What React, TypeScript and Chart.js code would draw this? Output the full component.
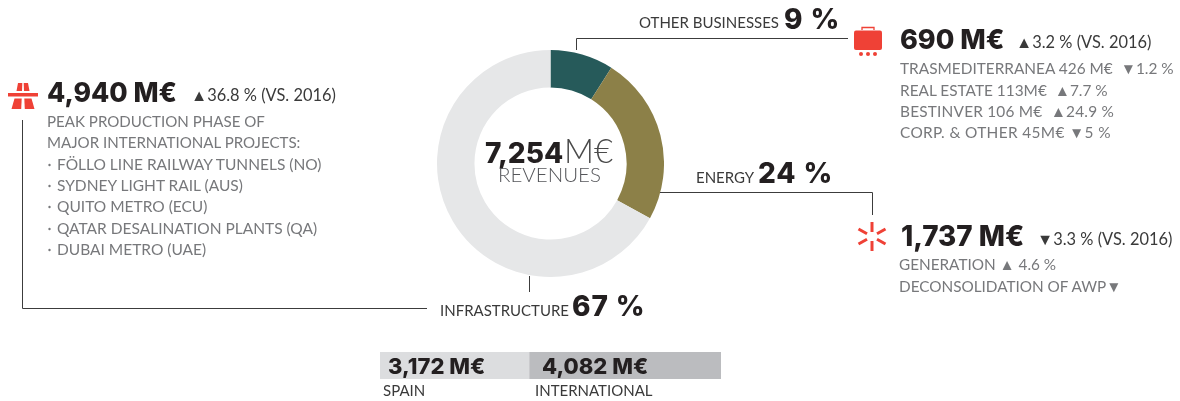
import React, { useEffect, useRef } from "react";
import { Chart, registerables } from "chart.js";

Chart.register(...registerables);

const segmentLabels = ["Other businesses", "Energy", "Infrastructure"];
const segmentValues = [9, 24, 67];
const segmentColors = ["#265A5A", "#8C8048", "#E6E7E8"];
const geoLabels = ["Spain", "International"];
const geoValues = [3172, 4082];
const geoColors = ["#DCDDDF", "#BBBCBF"];
const geoTotal = 7254;

const infraIntro = ["PEAK PRODUCTION PHASE OF", "MAJOR INTERNATIONAL PROJECTS:"];
const infraProjects = [
  "FÖLLO LINE RAILWAY TUNNELS (NO)",
  "SYDNEY LIGHT RAIL (AUS)",
  "QUITO METRO (ECU)",
  "QATAR DESALINATION PLANTS (QA)",
  "DUBAI METRO (UAE)",
];
const otherLines = [
  "TRASMEDITERRANEA 426 M€  ▼1.2 %",
  "REAL ESTATE 113M€  ▲7.7 %",
  "BESTINVER 106 M€  ▲24.9 %",
  "CORP. & OTHER 45M€ ▼5 %",
];
const energyLines = ["GENERATION ▲ 4.6 %", "DECONSOLIDATION OF AWP▼"];

const LIGHT = "Lato, sans-serif";
const HEAVY = "Inter, sans-serif";
const DARK = "#231F20";
const GREY = "#77787B";
const RED = "#EF4136";
const LINE = "#3C3C3C";

function Big({ x, y, size = 27, spacing = 0, children }: any) {
  return (
    <text x={x} y={y} fontFamily={HEAVY} fontWeight={800} fontSize={size} letterSpacing={spacing} fill={DARK}>
      {children}
    </text>
  );
}
function Small({ x, y, size = 15.4, fill = "#3A3A3A", weight = 400, spacing = 0, children }: any) {
  return (
    <text x={x} y={y} fontFamily={LIGHT} fontWeight={weight} fontSize={size} letterSpacing={spacing} fill={fill} xmlSpace="preserve">
      {children}
    </text>
  );
}

export default function App() {
  const donutRef = useRef<HTMLCanvasElement>(null);
  const barRef = useRef<HTMLCanvasElement>(null);

  useEffect(() => {
    const donut = new Chart(donutRef.current!, {
      type: "doughnut",
      data: {
        labels: segmentLabels,
        datasets: [{ data: segmentValues, backgroundColor: segmentColors, borderWidth: 0 }],
      },
      options: {
        responsive: false,
        animation: false,
        cutout: "67%",
        layout: { padding: 0 },
        plugins: { legend: { display: false }, tooltip: { enabled: false } },
      },
    });
    const bar = new Chart(barRef.current!, {
      type: "bar",
      data: {
        labels: ["Revenues"],
        datasets: geoLabels.map((label, i) => ({
          label,
          data: [geoValues[i]],
          backgroundColor: geoColors[i],
          borderWidth: 0,
          barPercentage: 1,
          categoryPercentage: 1,
        })),
      },
      options: {
        indexAxis: "y",
        responsive: false,
        animation: false,
        layout: { padding: 0 },
        scales: {
          x: { stacked: true, display: false, min: 0, max: geoTotal },
          y: { stacked: true, display: false },
        },
        plugins: { legend: { display: false }, tooltip: { enabled: false } },
      },
    });
    return () => {
      donut.destroy();
      bar.destroy();
    };
  }, []);

  const introY = [127, 148];
  const projectY = [170, 191, 212, 234, 255];
  const otherY = [74, 96, 117, 138];
  const otherSpacing = [0, 0, 0.2, 0.35];
  const energyY = [270, 292];

  return (
    <div style={{ position: "absolute", left: 0, top: 0, width: 1180, height: 401, overflow: "hidden", background: "#fff" }}>
      <canvas ref={donutRef} width={227} height={227} style={{ position: "absolute", left: 437, top: 50, width: 227, height: 227 }} />
      <canvas ref={barRef} width={341} height={27} style={{ position: "absolute", left: 380, top: 352, width: 341, height: 27 }} />
      <svg width={1180} height={401} style={{ position: "absolute", left: 0, top: 0 }}>
        <g stroke={LINE} strokeWidth={1} fill="none">
          <polyline points="576.5,50 576.5,38.5 848,38.5" />
          <polyline points="660,192.5 872.5,192.5 872.5,215" />
          <line x1={529.5} y1={276} x2={529.5} y2={292} />
          <polyline points="22.5,120 22.5,308.5 427,308.5" />
        </g>

        <g fill={RED}>
          <polygon points="18,83 22.3,83 22,91 16.5,91" />
          <polygon points="23.7,83 28,83 29.5,91 24,91" />
          <rect x={8} y={93} width={30} height={3.5} />
          <polygon points="14.5,98.5 21.7,98.5 21.2,109 11.5,109" />
          <polygon points="24.3,98.5 31.5,98.5 34.5,109 24.8,109" />
        </g>
        <g fill={RED}>
          <rect x={854} y={30.5} width={28} height={19.5} rx={2} />
          <path d="M862 30 v-2.5 h12 V30" fill="none" stroke={RED} strokeWidth={1.3} />
          <circle cx={861} cy={54} r={2} />
          <circle cx={868} cy={54} r={2} />
          <circle cx={875} cy={54} r={2} />
        </g>
        <g stroke={RED} strokeWidth={3} strokeLinecap="butt">
          <line x1={872} y1={222} x2={872} y2={232} />
          <line x1={872} y1={241} x2={872} y2={251} />
          <line x1={858.5} y1={229} x2={867} y2={233.8} />
          <line x1={877} y1={233.8} x2={885.5} y2={229} />
          <line x1={858.5} y1={244} x2={867} y2={239.2} />
          <line x1={877} y1={239.2} x2={885.5} y2={244} />
        </g>

        <Small x={639} y={28} size={15}>OTHER BUSINESSES</Small>
        <Big x={784} y={29} size={28} spacing={0.9}>9 %</Big>
        <Small x={696} y={183} size={15}>ENERGY</Small>
        <Big x={758} y={183} size={28} spacing={0.9}>24 %</Big>
        <Small x={440} y={316} size={15}>INFRASTRUCTURE</Small>
        <Big x={572} y={316} size={28} spacing={0.9}>67 %</Big>

        <Big x={485} y={163} size={28}>7,254</Big>
        <text x={564} y={163} fontFamily={LIGHT} fontWeight={300} fontSize={33} fill="#4A4A4A">M€</text>
        <text x={498} y={182} fontFamily={LIGHT} fontWeight={300} fontSize={20.5} fill="#55565A">REVENUES</text>

        <Big x={47} y={101.5} size={26.6}>4,940 M€</Big>
        <Small x={191} y={101} size={16.4}>▲36.8 % (VS. 2016)</Small>
        {infraIntro.map((s, i) => (
          <Small key={s} x={47} y={introY[i]} fill={GREY} size={15.1}>{s}</Small>
        ))}
        {infraProjects.map((s, i) => (
          <React.Fragment key={s}>
            <circle cx={49.5} cy={projectY[i] - 5} r={1.2} fill={GREY} />
            <Small x={57} y={projectY[i]} fill={GREY} size={15.5}>{s}</Small>
          </React.Fragment>
        ))}

        <Big x={900} y={49}>690 M€</Big>
        <Small x={1016} y={48} size={16.4}>▲3.2 % (VS. 2016)</Small>
        {otherLines.map((s, i) => (
          <Small key={s} x={900} y={otherY[i]} fill={GREY} spacing={otherSpacing[i]}>{s}</Small>
        ))}

        <Big x={901} y={246} size={27.8}>1,737 M€</Big>
        <Small x={1037} y={245} size={16.4}>▼3.3 % (VS. 2016)</Small>
        {energyLines.map((s, i) => (
          <Small key={s} x={899} y={energyY[i]} fill={GREY} size={15.3}>{s}</Small>
        ))}

        <Big x={388} y={374} size={22}>3,172 M€</Big>
        <Big x={542} y={374} size={22}>4,082 M€</Big>
        <Small x={383} y={396} size={15}>SPAIN</Small>
        <Small x={535} y={396} size={15}>INTERNATIONAL</Small>
      </svg>
    </div>
  );
}
